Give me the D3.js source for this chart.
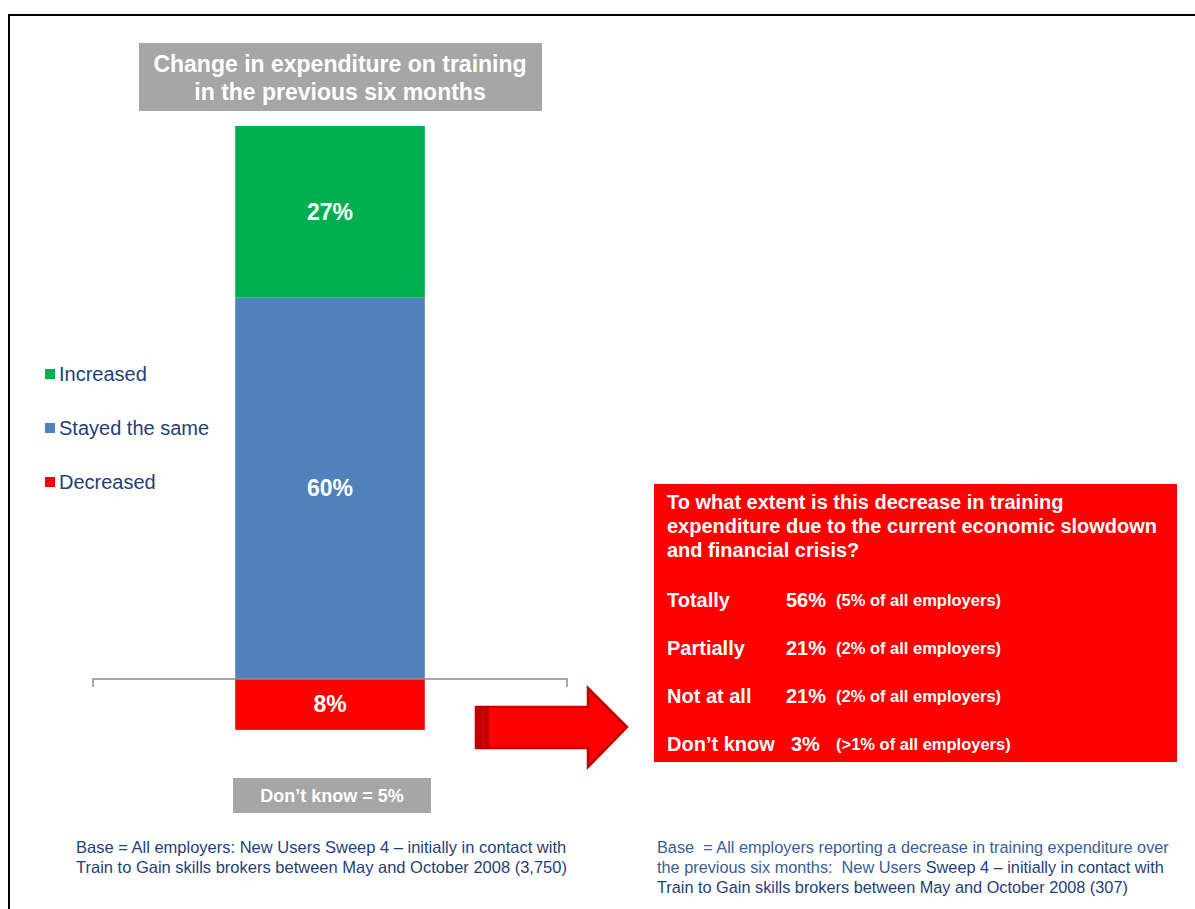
<!DOCTYPE html>
<html>
<head>
<meta charset="utf-8">
<script src="https://cdnjs.cloudflare.com/ajax/libs/d3/7.8.5/d3.min.js"></script>
<style>
  body { margin: 0; background: #fff; }
  text { font-family: "Liberation Sans", Arial, sans-serif; }
</style>
</head>
<body>
<script>
/* chart data */
var barGroup = ["All employers"];
var categories = ["Increased", "Stayed the same", "Decreased"];
var values = [27, 60, -8];
var colors = ["#00b050", "#4f81bd", "#ff0000"];
var dontKnow = 5;

/* follow-up question data */
var questionLines = ["To what extent is this decrease in training",
                     "expenditure due to the current economic slowdown",
                     "and financial crisis?"];
var answers = ["Totally", "Partially", "Not at all", "Don\u2019t know"];
var answerPct = ["56%", "21%", "21%", "3%"];
var answerAll = ["(5% of all employers)", "(2% of all employers)", "(2% of all employers)", "(>1% of all employers)"];

var leftNote = ["Base = All employers: New Users Sweep 4 \u2013 initially in contact with",
                "Train to Gain skills brokers between May and October 2008 (3,750)"];

var W = 1195, H = 909;
var svg = d3.select("body").append("svg")
    .attr("width", W).attr("height", H);

// frame (only top and left edges visible)
svg.append("path")
    .attr("d", "M9,909 V15 H1195")
    .attr("fill", "none").attr("stroke", "#000").attr("stroke-width", 2);

/* scales */
var x = d3.scaleBand().domain(barGroup).range([93, 567])
    .paddingInner(0.6).paddingOuter(0.3);
var y = d3.scaleLinear().domain([0, 87]).range([679, 126]);

// stack positive values upward from zero, negative downward
var stacked = [];
var posBase = 0;
// Stayed the same sits on the baseline, Increased on top of it
[1, 0, 2].forEach(function(i) {
  var v = values[i];
  if (v >= 0) {
    stacked.push({ cat: categories[i], v: v, y0: posBase, y1: posBase + v, color: colors[i] });
    posBase += v;
  } else {
    stacked.push({ cat: categories[i], v: v, y0: v, y1: 0, color: colors[i] });
  }
});

var g = svg.append("g");
g.selectAll("rect.bar")
  .data(stacked)
  .enter().append("rect")
    .attr("class", "bar")
    .attr("x", x(barGroup[0]))
    .attr("width", x.bandwidth())
    .attr("y", function(d) { return y(d.y1); })
    .attr("height", function(d) { return y(d.y0) - y(d.y1); })
    .attr("fill", function(d) { return d.color; });

g.selectAll("text.val")
  .data(stacked)
  .enter().append("text")
    .attr("class", "val")
    .attr("x", x(barGroup[0]) + x.bandwidth() / 2)
    .attr("y", function(d) { return (y(d.y0) + y(d.y1)) / 2; })
    .attr("dy", "0.35em")
    .attr("text-anchor", "middle")
    .attr("fill", "#fff")
    .attr("font-weight", "bold")
    .attr("font-size", 23)
    .text(function(d) { return Math.abs(d.v) + "%"; });

// baseline with end ticks
var r = x.range();
svg.append("path")
    .attr("d", "M" + r[0] + "," + (y(0) + 8) + " V" + y(0) + " H" + r[1] + " V" + (y(0) + 8))
    .attr("fill", "none").attr("stroke", "#8c8c8c").attr("stroke-width", 1.5);

// title box
svg.append("rect").attr("x", 139).attr("y", 43).attr("width", 403).attr("height", 68).attr("fill", "#a6a6a6");
svg.append("text").attr("x", 340).attr("y", 72).attr("text-anchor", "middle")
    .attr("fill", "#fff").attr("font-weight", "bold").attr("font-size", 23)
    .text("Change in expenditure on training");
svg.append("text").attr("x", 340).attr("y", 100).attr("text-anchor", "middle")
    .attr("fill", "#fff").attr("font-weight", "bold").attr("font-size", 23)
    .text("in the previous six months");

// legend
var legend = svg.selectAll("g.leg")
  .data(categories)
  .enter().append("g")
    .attr("class", "leg")
    .attr("transform", function(d, i) { return "translate(45," + (374 + i * 54) + ")"; });
legend.append("rect").attr("x", 0).attr("y", -5).attr("width", 10).attr("height", 10)
    .attr("fill", function(d, i) { return colors[i]; });
legend.append("text").attr("x", 14).attr("dy", "0.35em")
    .attr("font-size", 20).attr("fill", "#1f3f77")
    .text(function(d) { return d; });

// don't know box
svg.append("rect").attr("x", 233).attr("y", 778).attr("width", 198).attr("height", 35).attr("fill", "#a6a6a6");
svg.append("text").attr("x", 332).attr("y", 796).attr("dy", "0.35em").attr("text-anchor", "middle")
    .attr("fill", "#fff").attr("font-weight", "bold").attr("font-size", 18)
    .text("Don\u2019t know = " + dontKnow + "%");

// arrow
svg.append("path")
    .attr("d", "M476,707 H588 V688 L627,727 L588,767 V748 H476 Z")
    .attr("fill", "#ff0000").attr("stroke", "#c00000").attr("stroke-width", 2.5)
    .attr("stroke-linejoin", "miter");
svg.append("rect").attr("x", 475).attr("y", 706).attr("width", 14).attr("height", 43).attr("fill", "#c00000");
svg.append("line").attr("x1", 483).attr("x2", 483).attr("y1", 707).attr("y2", 748)
    .attr("stroke", "#e00000").attr("stroke-width", 1.5);

// red panel
svg.append("rect").attr("x", 654).attr("y", 484).attr("width", 523).attr("height", 278).attr("fill", "#ff0000");
svg.selectAll("text.q")
  .data(questionLines)
  .enter().append("text")
    .attr("class", "q")
    .attr("x", 667).attr("y", function(d, i) { return 502 + i * 24; })
    .attr("dy", "0.35em")
    .attr("fill", "#fff").attr("font-weight", "bold").attr("font-size", 20)
    .text(function(d) { return d; });

var rows = svg.selectAll("g.ans")
  .data(answers)
  .enter().append("g")
    .attr("class", "ans")
    .attr("transform", function(d, i) { return "translate(0," + (600 + i * 48) + ")"; });
rows.append("text").attr("x", 667).attr("dy", "0.35em")
    .attr("fill", "#fff").attr("font-weight", "bold").attr("font-size", 20)
    .text(function(d) { return d; });
rows.append("text").attr("x", function(d, i) { return i === 3 ? 791 : 786; }).attr("dy", "0.35em")
    .attr("fill", "#fff").attr("font-weight", "bold").attr("font-size", 20)
    .text(function(d, i) { return answerPct[i]; });
rows.append("text").attr("x", 836).attr("dy", "0.35em")
    .attr("fill", "#fff").attr("font-weight", "bold").attr("font-size", 16.5)
    .text(function(d, i) { return answerAll[i]; });

// footnotes
svg.selectAll("text.ln")
  .data(leftNote)
  .enter().append("text")
    .attr("class", "ln")
    .attr("x", 76).attr("y", function(d, i) { return 847 + i * 20; })
    .attr("dy", "0.35em").attr("font-size", 16.5).attr("fill", "#1f3f77")
    .text(function(d) { return d; });

var rn = svg.append("g").attr("font-size", 16.3);
rn.append("text").attr("x", 657).attr("y", 847).attr("dy", "0.35em").attr("fill", "#3b5e96")
    .attr("xml:space", "preserve")
    .text("Base  = All employers reporting a decrease in training expenditure over");
var rn2 = rn.append("text").attr("x", 657).attr("y", 867).attr("dy", "0.35em").attr("xml:space", "preserve");
rn2.append("tspan").attr("fill", "#3b5e96").text("the previous six months:  New Users ");
rn2.append("tspan").attr("fill", "#1f3f77").text("Sweep 4 \u2013 initially in contact with");
rn.append("text").attr("x", 657).attr("y", 887).attr("dy", "0.35em").attr("fill", "#1f3f77")
    .text("Train to Gain skills brokers between May and October 2008 (307)");
</script>
</body>
</html>
